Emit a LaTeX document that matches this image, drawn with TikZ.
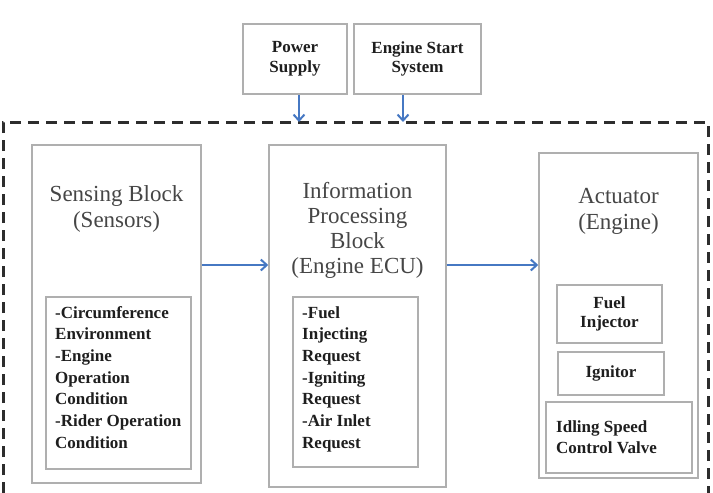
\documentclass[tikz,border=0pt]{standalone}
\usepackage{fontspec}
\setmainfont{Liberation Serif}
\usetikzlibrary{arrows.meta,calc}
\definecolor{boxgray}{RGB}{175,175,175}
\definecolor{arrowblue}{RGB}{70,120,195}
\definecolor{dashgray}{RGB}{45,45,45}
\definecolor{titlegray}{RGB}{70,70,70}
\definecolor{textdark}{RGB}{30,30,30}
\begin{document}
\begin{tikzpicture}[x=1pt,y=-1pt,
  box/.style={draw=boxgray, line width=1.5pt, fill=white, inner sep=0pt},
  titletext/.style={font=\fontsize{23}{26}\selectfont, text=titlegray, align=center, inner sep=0pt, anchor=north},
  smalltext/.style={font=\fontsize{17}{21.7}\selectfont\bfseries, text=textdark, inner sep=0pt, align=left, anchor=north west},
  boxtext/.style={font=\fontsize{17}{19.5}\selectfont\bfseries, text=textdark, align=center},
  arr/.style={draw=arrowblue, line width=2pt, -{Straight Barb[length=6pt,width=11pt,line width=2pt]}},
  dashline/.style={draw=dashgray, line width=3pt, dash pattern=on 11pt off 7pt}
]
\useasboundingbox (0,0) rectangle (713,493);

% dashed boundary
\draw[dashline] (3,493) |- (708,122) -- (708,493);
\coordinate (pwrin) at (299,122);
\coordinate (essin) at (403,122);
\coordinate (arrowy) at (0,265);

% top boxes
\node[box, boxtext, minimum width=104pt, minimum height=70pt] (pow) at (295,59) {Power\\Supply};
\node[box, boxtext, minimum width=127pt, minimum height=70pt] (ess) at (417.5,59) {Engine Start\\System};

% sensing block
\node[box, minimum width=169pt, minimum height=338pt] (sens) at (116.5,314) {};
\node[titletext] (senstitle) at (116.5,185) {Sensing Block\\(Sensors)};
\node[box, minimum width=145pt, minimum height=172pt] (sensin) at (118.5,383) {};
\node[smalltext] (senstext) at (55,306) {-Circumference\\Environment\\-Engine\\Operation\\Condition\\-Rider Operation\\Condition};

% information processing block
\node[box, minimum width=177pt, minimum height=342pt] (info) at (357.5,316) {};
\node[titletext, font=\fontsize{23}{25}\selectfont] (infotitle) at (357.5,182) {Information\\Processing\\Block\\(Engine ECU)};
\node[box, minimum width=125pt, minimum height=170pt] (infoin) at (355.5,382) {};
\node[smalltext] (infotext) at (302,306) {-Fuel\\Injecting\\Request\\-Igniting\\Request\\-Air Inlet\\Request};

% actuator
\node[box, minimum width=159pt, minimum height=325pt] (act) at (618.5,315.5) {};
\node[titletext] (acttitle) at (618.5,188) {Actuator\\(Engine)};
\node[box, boxtext, minimum width=105pt, minimum height=58pt] (fuel) at (609.5,314) {Fuel\\Injector};
\node[box, boxtext, minimum width=106pt, minimum height=43pt] (ign) at (611,373.5) {Ignitor};
\node[box, minimum width=146pt, minimum height=71pt] (idle) at (619,437.5) {};
\node[smalltext, font=\fontsize{17}{21}\selectfont\bfseries] (idletext) at (556,420) {Idling Speed\\Control Valve};

% connectors
\draw[arr] (pwrin |- pow.south) -- (pwrin);
\draw[arr] (essin |- ess.south) -- (essin);
\draw[arr] (sens.east |- arrowy) -- (info.west |- arrowy);
\draw[arr] (info.east |- arrowy) -- (act.west |- arrowy);
\end{tikzpicture}
\end{document}
